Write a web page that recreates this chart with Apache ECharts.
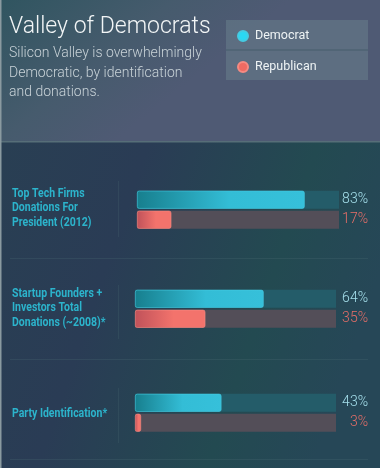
<!DOCTYPE html>
<html>
<head>
<meta charset="utf-8">
<script src="https://cdn.jsdelivr.net/npm/echarts@6/dist/echarts.min.js"></script>
<style>
html,body{margin:0;padding:0;background:#283f52;}
#c{width:380px;height:468px;}
</style>
</head>
<body>
<div id="c"></div>
<script>
const categories = [
  'Top Tech Firms\nDonations For\nPresident (2012)',
  'Startup Founders +\nInvestors Total\nDonations (~2008)*',
  'Party Identification*'
];
const seriesNames = ['Democrat', 'Republican'];
const democrat = [83, 64, 43];
const republican = [17, 35, 3];
const trackMax = 100;

const chart = echarts.init(document.getElementById('c'), null, {renderer: 'canvas'});

const grids = [
  {left: 137, top: 189.7, width: 202, height: 40},
  {left: 135, top: 288.8, width: 201, height: 40},
  {left: 135, top: 392.8, width: 201, height: 40}
];
const labelY = [208, 308, 414];
const sepY = [[181, 237], [285, 339], [388, 443]];

const demGrad = new echarts.graphic.LinearGradient(0, 0, 1, 0, [
  {offset: 0, color: '#177f8e'}, {offset: 0.55, color: '#33bdd6'}, {offset: 1, color: '#36c0da'}]);
const repGrad = new echarts.graphic.LinearGradient(0, 0, 1, 0, [
  {offset: 0, color: '#c0525a'}, {offset: 0.55, color: '#f3736c'}, {offset: 1, color: '#f3736c'}]);

const xAxis = [], yAxis = [], series = [];
grids.forEach((g, i) => {
  xAxis.push({gridIndex: i, type: 'value', min: 0, max: trackMax, show: false});
  yAxis.push({gridIndex: i, type: 'category', data: seriesNames, inverse: true, show: false});
  const vals = [democrat[i], republican[i]];
  series.push({
    type: 'bar', name: 'track', xAxisIndex: i, yAxisIndex: i, silent: true,
    barWidth: 18, barGap: '-100%',
    data: [
      {value: trackMax, itemStyle: {color: '#245c69'}},
      {value: trackMax, itemStyle: {color: '#534e58'}, label: {color: '#e86e68'}}
    ],
    label: {
      show: true, position: 'insideRight', distance: 0,
      offset: [368 - (g.left + g.width), 0],
      formatter: p => vals[p.dataIndex] + '%',
      fontFamily: 'Roboto, sans-serif', fontWeight: 300, fontSize: 14,
      color: '#a6e0ec'
    }
  });
  series.push({
    type: 'bar', name: 'Democrat', xAxisIndex: i, yAxisIndex: i,
    barWidth: 18, barGap: '-100%',
    itemStyle: {color: demGrad, borderRadius: 2, borderColor: '#45cbe2', borderWidth: 0.6},
    data: [democrat[i], '-']
  });
  series.push({
    type: 'bar', name: 'Republican', xAxisIndex: i, yAxisIndex: i,
    barWidth: 18, barGap: '-100%',
    itemStyle: {color: repGrad, borderRadius: 2, borderColor: '#f58a82', borderWidth: 0.6},
    data: ['-', republican[i]]
  });
});

const graphics = [
  {type: 'rect', shape: {x: 0, y: 0, width: 380, height: 142}, silent: true, z: -10,
   style: {fill: new echarts.graphic.LinearGradient(0, 0, 0.3, 1, [
     {offset: 0, color: '#305560'}, {offset: 0.6, color: '#465b6d'}, {offset: 1, color: '#4f5a74'}])}},
  {type: 'rect', shape: {x: 0, y: 142, width: 380, height: 326}, silent: true, z: -10,
   style: {fill: new echarts.graphic.LinearGradient(0, 0, 1, 0.4, [
     {offset: 0, color: '#293f53'}, {offset: 0.35, color: '#2a3c55'}, {offset: 0.75, color: '#234a51'}, {offset: 1, color: '#264757'}])}},
  {type: 'rect', shape: {x: 0, y: 141, width: 380, height: 1.5}, silent: true, z: -9, style: {fill: '#566e78'}},
  {type: 'rect', shape: {x: 0, y: 0, width: 1.5, height: 468}, silent: true, z: 5, style: {fill: '#8a9aa0'}},
  {type: 'text', left: 9, top: 16, silent: true,
   style: {text: 'Valley of Democrats', fill: '#f2f5f6', font: '300 23px Roboto, sans-serif'}},
  {type: 'text', left: 9, top: 44, silent: true,
   style: {text: 'Silicon Valley is overwhelmingly\nDemocratic, by identification\nand donations.',
     fill: '#c9d3d8', font: '300 14px Roboto, sans-serif', lineHeight: 19.5}},
  {type: 'rect', shape: {x: 226, y: 20, width: 142, height: 60}, silent: true,
   style: {fill: 'rgba(120,150,155,0.35)'}},
  {type: 'rect', shape: {x: 226, y: 49.5, width: 142, height: 1}, silent: true,
   style: {fill: 'rgba(40,70,80,0.45)'}}
];
categories.forEach((c, i) => {
  const lines = c.split('\n').length;
  graphics.push({type: 'text', x: 12, y: labelY[i] - lines * 14.5 / 2, scaleX: 0.84, silent: true,
    style: {text: c, fill: '#2cb4cc', font: 'bold 12.5px Roboto, sans-serif', lineHeight: 14.5}});
  graphics.push({type: 'rect', shape: {x: 118, y: sepY[i][0], width: 1, height: sepY[i][1] - sepY[i][0]}, silent: true,
    style: {fill: 'rgba(70,100,110,0.3)'}});
});
[258, 359, 459].forEach(y => {
  graphics.push({type: 'rect', shape: {x: 10, y: y, width: 358, height: 1}, silent: true,
    style: {fill: 'rgba(80,110,120,0.25)'}});
});

chart.setOption({
  animation: false,
  backgroundColor: 'transparent',
  grid: grids,
  xAxis, yAxis, series,
  legend: {
    data: [{name: 'Democrat', itemStyle: {color: '#2ad8f4'}}, {name: 'Republican', itemStyle: {color: '#ef6a62'}}],
    orient: 'vertical', left: 237, top: 29, padding: 0, itemGap: 17, icon: 'circle', itemWidth: 10, itemHeight: 10,
    textStyle: {color: '#eef3f4', fontSize: 12.5, fontFamily: 'Roboto, sans-serif', padding: [0, 0, 0, 2], lineHeight: 14}
  },
  graphic: graphics
});
</script>
</body>
</html>
